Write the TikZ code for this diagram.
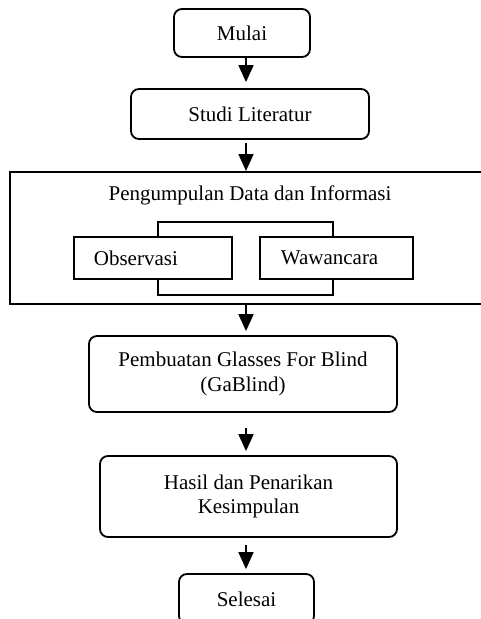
\documentclass[tikz,border=0pt]{standalone}
\usepackage{fontspec}
\setmainfont{Liberation Serif}
\usetikzlibrary{arrows.meta}
\begin{document}
\begin{tikzpicture}[x=1pt,y=-1pt,
  every node/.style={font=\fontsize{21}{24.5}\selectfont},
  rbox/.style={draw, line width=1.8pt, rounded corners=8pt, align=center, inner sep=0pt},
  sbox/.style={draw, line width=1.8pt, fill=white, inner xsep=20pt, inner ysep=0pt, align=left, anchor=west},
  arr/.style={line width=1.8pt, -{Triangle[length=17pt,width=15pt]}}]
\clip (0,0) rectangle (481,619);
\coordinate (axis) at (246,0);
\node[rbox, minimum width=136pt, minimum height=48pt] (mulai) at (242,33) {Mulai};
\node[rbox, minimum width=238pt, minimum height=50pt] (studi) at (250,114) {Studi Literatur};
\node[draw, line width=2pt, minimum width=480pt, minimum height=132pt, inner sep=0pt] (outer) at (250,238) {};
\node[inner sep=0pt] (title) at (250,195) {Pengumpulan Data dan Informasi};
\node[draw, line width=1.8pt, minimum width=175pt, minimum height=73pt, inner sep=0pt] (link) at (245.5,258.5) {};
\node[sbox, text width=118pt, minimum height=42pt] (obs) at (73,258) {Observasi};
\node[sbox, text width=111pt, minimum height=42pt, inner xsep=21pt] (waw) at (259,258) {Wawancara};
\node[rbox, minimum width=308pt, minimum height=76pt] (buat) at (243,374) {Pembuatan Glasses For Blind\\(GaBlind)};
\node[rbox, minimum width=297pt, minimum height=81pt] (hasil) at (248.5,496.5) {Hasil dan Penarikan\\Kesimpulan};
\node[rbox, minimum width=135pt, minimum height=50pt] (selesai) at (246.5,599) {Selesai};
\draw[arr, shorten >=6pt] (mulai.south -| axis) -- (studi.north -| axis);
\draw[arr, shorten <=3pt] (studi.south -| axis) -- (outer.north -| axis);
\draw[arr, shorten >=4pt] (outer.south -| axis) -- (buat.north -| axis);
\draw[arr, shorten <=15pt, shorten >=4pt] (buat.south -| axis) -- (hasil.north -| axis);
\draw[arr, shorten <=7pt, shorten >=4pt] (hasil.south -| axis) -- (selesai.north -| axis);
\end{tikzpicture}
\end{document}
